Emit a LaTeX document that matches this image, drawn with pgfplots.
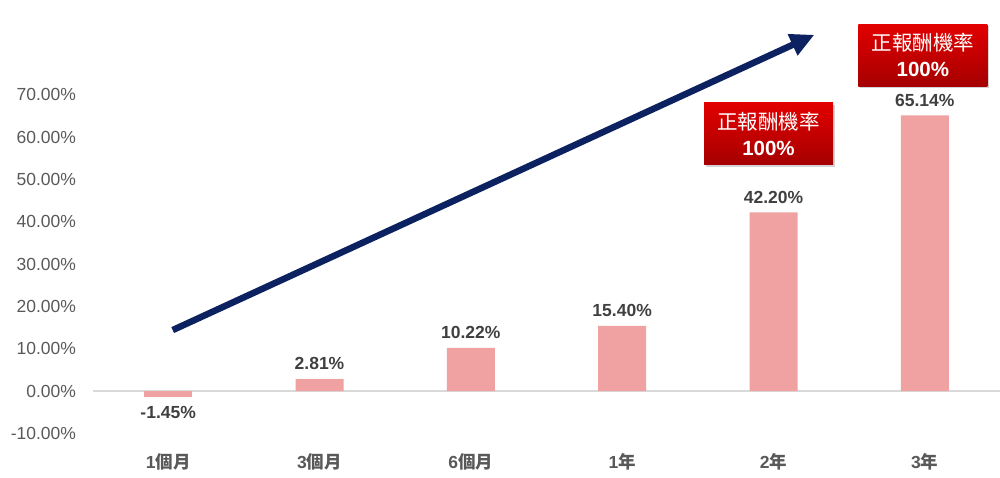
\documentclass[border=0pt]{standalone}
\usepackage{pgfplots}
\pgfplotsset{compat=1.18}
\usepackage{pgfplotstable}
\usepackage{fontspec}
\setmainfont{Liberation Sans}
\newfontfamily\cjk{Noto Sans CJK TC}
\usetikzlibrary{arrows.meta,shadows}
\definecolor{barc}{HTML}{F0A2A2}
\definecolor{navy}{HTML}{0B2160}
\definecolor{tickc}{HTML}{595959}
\definecolor{valc}{HTML}{404040}
\definecolor{redtop}{HTML}{E20000}
\definecolor{redbot}{HTML}{A50000}
\definecolor{zeroc}{HTML}{D9D9D9}

\pgfplotstableread{
x y lab
1 2.81 2.81\%
2 10.22 10.22\%
3 15.40 15.40\%
4 42.20 42.20\%
5 65.14 65.14\%
}\datapos
\pgfplotstableread{
x y lab
0 -1.45 -1.45\%
}\dataneg

\begin{document}
\begin{tikzpicture}
\useasboundingbox (0,0) rectangle (1000pt,477pt);
\begin{axis}[
  at={(92.5pt,0pt)}, anchor=south west,
  scale only axis, width=908pt, height=477pt,
  xmin=-0.5, xmax=5.5, ymin=-20.33, ymax=92.43,
  clip=false,
  axis line style={draw=none},
  major tick length=0pt,
  xtick={0,1,2,3,4,5},
  xticklabels={1{\cjk 個月},3{\cjk 個月},6{\cjk 個月},1{\cjk 年},2{\cjk 年},3{\cjk 年}},
  xticklabel style={font=\fontsize{17.5}{19}\selectfont\bfseries, text=tickc, anchor=center, yshift=15pt},
  ytick={-10,0,10,20,30,40,50,60,70},
  /pgf/number format/assume math mode=true,
  yticklabel={\pgfmathprintnumber[fixed,precision=2,zerofill]{\tick}\%},
  yticklabel style={font=\fontsize{17.5}{19}\selectfont, text=tickc, xshift=-13pt},
  ybar, bar width=48pt, bar shift=0pt,
  nodes near coords,
  point meta=explicit symbolic,
  every node near coord/.append style={font=\fontsize{17.5}{20}\selectfont\bfseries, text=valc, inner ysep=9pt},
]
\draw[zeroc, line width=1.5pt] (axis cs:-0.5,0) -- (axis cs:5.5,0);
\addplot[fill=barc, draw=none] table[x=x, y=y, meta=lab] {\datapos};
\addplot[fill=barc, draw=none, every node near coord/.append style={anchor=north}] table[x=x, y=y, meta=lab] {\dataneg};
\draw[navy, line width=6.5pt, -{Triangle[length=24pt,width=22pt]}] (axis cs:0.03,14.4) -- (axis cs:4.27,84.2);
\node[top color=redtop, bottom color=redbot, drop shadow={opacity=0.35, shadow xshift=2pt, shadow yshift=-2pt},
  minimum width=129pt, minimum height=62pt, align=center, text=white, font=\fontsize{20.5}{26}\selectfont]
  at (axis cs:3.967,60.76) {{\cjk 正報酬機率}\\\bfseries 100\%};
\node[top color=redtop, bottom color=redbot, drop shadow={opacity=0.35, shadow xshift=2pt, shadow yshift=-2pt},
  minimum width=129pt, minimum height=62pt, align=center, text=white, font=\fontsize{20.5}{26}\selectfont]
  at (axis cs:4.987,79.4) {{\cjk 正報酬機率}\\\bfseries 100\%};
\end{axis}
\end{tikzpicture}
\end{document}
